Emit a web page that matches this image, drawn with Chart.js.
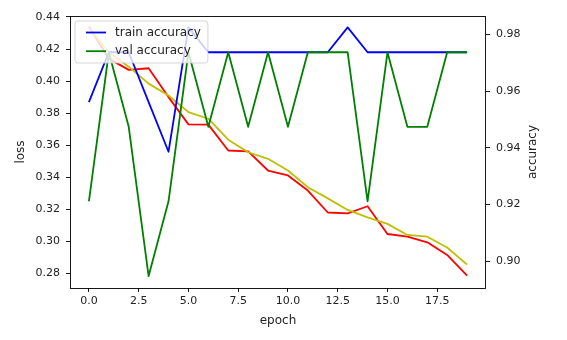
<!DOCTYPE html>
<html>
<head>
<meta charset="utf-8">
<script src="https://cdn.jsdelivr.net/npm/chart.js@4.4.0/dist/chart.umd.min.js"></script>
<style>
  html, body { margin: 0; padding: 0; background: #ffffff; }
  #wrap { width: 567px; height: 340px; }
</style>
</head>
<body>
<div id="wrap"><canvas id="c" width="567" height="340"></canvas></div>
<script>
// Training history per epoch
const epochs = [0, 1, 2, 3, 4, 5, 6, 7, 8, 9, 10, 11, 12, 13, 14, 15, 16, 17, 18, 19];
const trainAcc = [0.9561, 0.9737, 0.9737, 0.9561, 0.9386, 0.9825, 0.9737, 0.9737, 0.9737, 0.9737,
                  0.9737, 0.9737, 0.9737, 0.9825, 0.9737, 0.9737, 0.9737, 0.9737, 0.9737, 0.9737];
const valAcc = [0.9211, 0.9737, 0.9474, 0.8947, 0.9211, 0.9737, 0.9474, 0.9737, 0.9474, 0.9737,
                0.9474, 0.9737, 0.9737, 0.9737, 0.9211, 0.9737, 0.9474, 0.9474, 0.9737, 0.9737];
const trainLoss = [0.4340, 0.4140, 0.4070, 0.4080, 0.3900, 0.3730, 0.3728, 0.3567, 0.3561, 0.3442,
                   0.3411, 0.3317, 0.3180, 0.3175, 0.3219, 0.3046, 0.3029, 0.2994, 0.2915, 0.2786];
const valLoss = [0.4330, 0.4180, 0.4090, 0.3984, 0.3910, 0.3806, 0.3765, 0.3634, 0.3556, 0.3515,
                 0.3442, 0.3338, 0.3268, 0.3196, 0.3150, 0.3109, 0.3040, 0.3029, 0.2962, 0.2855];

// Axis tick values
const epochTicks = [0, 2.5, 5, 7.5, 10, 12.5, 15, 17.5];
const lossTicks = [0.28, 0.30, 0.32, 0.34, 0.36, 0.38, 0.40, 0.42, 0.44];
const accTicks = [0.90, 0.92, 0.94, 0.96, 0.98];

const TICK_FONT = { family: 'DejaVu Sans', size: 11 };
const LABEL_FONT = { family: 'DejaVu Sans', size: 12 };
const TEXT = '#222222';

const pts = (ys) => epochs.map((e, i) => ({ x: e, y: ys[i] }));

const setTicks = (values) => (scale) => {
  scale.ticks = values.map(v => ({ value: v }));
};

// Axes frame, legend box and right-hand axis title
const overlay = {
  id: 'overlay',
  afterDatasetsDraw(chart) {
    const ctx = chart.ctx;
    const a = chart.chartArea;
    ctx.save();

    ctx.strokeStyle = '#000000';
    ctx.lineWidth = 0.9;
    ctx.strokeRect(Math.round(a.left) + 0.5, Math.round(a.top) + 0.5,
                   Math.round(a.right - a.left) - 1, Math.round(a.bottom - a.top));

    const items = chart.data.datasets.filter(d => d.yAxisID === 'y2');
    ctx.font = '12px "DejaVu Sans"';
    const maxW = Math.max(...items.map(d => ctx.measureText(d.label).width));
    const bx = a.left + 5, by = a.top + 5;
    const textX = bx + 40;
    const bw = textX - bx + maxW + 7, bh = 42, r = 3;
    ctx.beginPath();
    ctx.moveTo(bx + r, by);
    ctx.lineTo(bx + bw - r, by);
    ctx.arcTo(bx + bw, by, bx + bw, by + r, r);
    ctx.lineTo(bx + bw, by + bh - r);
    ctx.arcTo(bx + bw, by + bh, bx + bw - r, by + bh, r);
    ctx.lineTo(bx + r, by + bh);
    ctx.arcTo(bx, by + bh, bx, by + bh - r, r);
    ctx.lineTo(bx, by + r);
    ctx.arcTo(bx, by, bx + r, by, r);
    ctx.closePath();
    ctx.fillStyle = 'rgba(255,255,255,0.8)';
    ctx.fill();
    ctx.strokeStyle = 'rgba(204,204,204,0.8)';
    ctx.lineWidth = 1;
    ctx.stroke();

    items.forEach((d, i) => {
      const cy = by + 11.5 + i * 18.7;
      ctx.beginPath();
      ctx.moveTo(bx + 11, cy);
      ctx.lineTo(bx + 31, cy);
      ctx.strokeStyle = d.borderColor;
      ctx.lineWidth = 1.8;
      ctx.stroke();
      ctx.fillStyle = TEXT;
      ctx.textAlign = 'left';
      ctx.textBaseline = 'middle';
      ctx.fillText(d.label, textX, cy);
    });

    const y2 = chart.scales.y2;
    ctx.translate(533, (a.top + a.bottom) / 2);
    ctx.rotate(-Math.PI / 2);
    ctx.textAlign = 'center';
    ctx.textBaseline = 'middle';
    ctx.fillStyle = TEXT;
    ctx.fillText(y2.options.title.text, 0, 0);
    ctx.restore();
  }
};

const line = (label, data, color, axis, order) => ({
  label, data: pts(data), yAxisID: axis, order,
  borderColor: color, backgroundColor: color,
  borderWidth: 1.8, pointRadius: 0, tension: 0, fill: false,
  borderJoinStyle: 'round', borderCapStyle: 'butt'
});

new Chart(document.getElementById('c'), {
  type: 'line',
  data: {
    datasets: [
      line('train accuracy', trainAcc, '#0000ff', 'y2', 1),
      line('val accuracy', valAcc, '#008000', 'y2', 0),
      line('train loss', trainLoss, '#ff0000', 'y', 3),
      line('val loss', valLoss, '#bfbf00', 'y', 2)
    ]
  },
  options: {
    responsive: false,
    devicePixelRatio: 1,
    animation: false,
    layout: { padding: { left: 0, right: 0, top: 16, bottom: 0 } },
    plugins: { legend: { display: false }, tooltip: { enabled: false } },
    scales: {
      x: {
        type: 'linear', min: -0.95, max: 19.95,
        afterBuildTicks: setTicks(epochTicks),
        afterFit: (s) => { s.height = 52; },
        grid: { drawOnChartArea: false, drawTicks: true, tickLength: 4, color: '#000', lineWidth: 0.9 },
        border: { display: false },
        ticks: { font: TICK_FONT, color: TEXT, padding: 3, maxRotation: 0, autoSkip: false,
                 callback: (v) => Number(v).toFixed(1) },
        title: { display: true, text: 'epoch', font: LABEL_FONT, color: TEXT, padding: { top: 0, bottom: 12 } }
      },
      y: {
        position: 'left', min: 0.2709, max: 0.4406,
        afterBuildTicks: setTicks(lossTicks),
        afterFit: (s) => { s.width = 70; },
        grid: { drawOnChartArea: false, drawTicks: true, tickLength: 4, color: '#000', lineWidth: 0.9 },
        border: { display: false },
        ticks: { font: TICK_FONT, color: TEXT, padding: 6, autoSkip: false,
                 callback: (v) => Number(v).toFixed(2) },
        title: { display: true, text: 'loss', font: LABEL_FONT, color: TEXT, padding: { top: 14, bottom: 0 } }
      },
      y2: {
        position: 'right', min: 0.8905, max: 0.9865,
        afterBuildTicks: setTicks(accTicks),
        afterFit: (s) => { s.width = 81; },
        grid: { drawOnChartArea: false, drawTicks: true, tickLength: 4, color: '#000', lineWidth: 0.9 },
        border: { display: false },
        ticks: { font: TICK_FONT, color: TEXT, padding: 6, autoSkip: false,
                 callback: (v) => Number(v).toFixed(2) },
        title: { display: false, text: 'accuracy', font: LABEL_FONT, color: TEXT }
      }
    }
  },
  plugins: [overlay]
});
</script>
</body>
</html>
